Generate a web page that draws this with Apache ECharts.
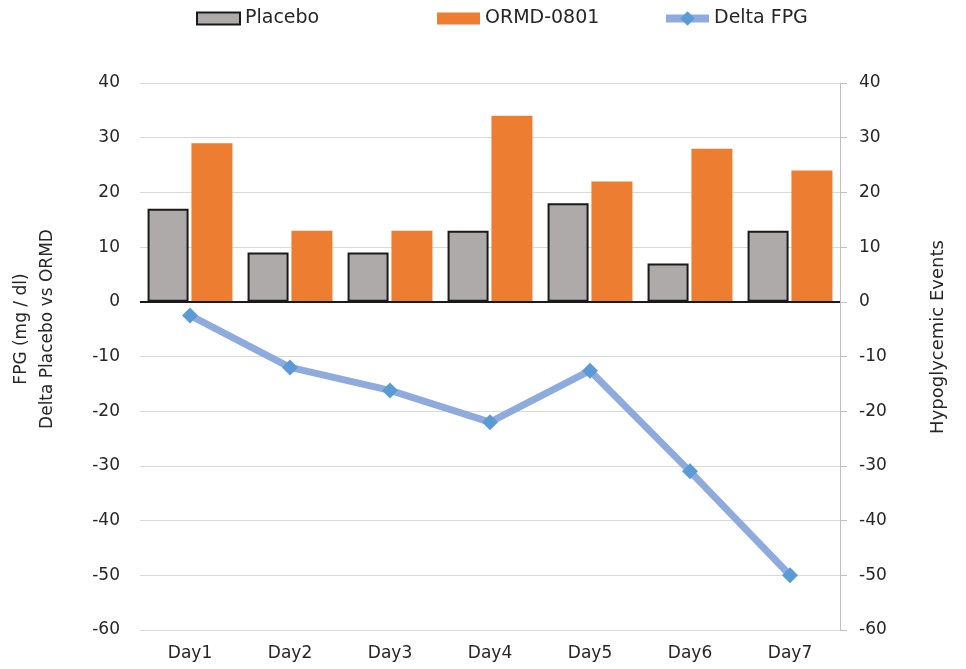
<!DOCTYPE html>
<html>
<head>
<meta charset="utf-8">
<script src="https://cdn.jsdelivr.net/npm/echarts@6/dist/echarts.min.js"></script>
<style>
  html, body { margin: 0; padding: 0; background: #fff; }
  #chart { width: 966px; height: 669px; }
</style>
</head>
<body>
<div id="chart"></div>
<script>
const categories = ['Day1', 'Day2', 'Day3', 'Day4', 'Day5', 'Day6', 'Day7'];
const placebo = [17, 9, 9, 13, 18, 7, 13];
const ormd = [29, 13, 13, 34, 22, 28, 24];
const deltaFPG = [-2.5, -12, -16.2, -22, -12.6, -31, -50];
const axisMin = -60;
const axisMax = 40;
const axisStep = 10;

const FONT = 'DejaVu Sans';
const TXT = '#262626';

const chart = echarts.init(document.getElementById('chart'), null, { renderer: 'canvas' });

const legendBase = {
  top: 9,
  padding: 0,
  itemWidth: 43,
  itemHeight: 12,
  selectedMode: false,
  textStyle: { fontFamily: FONT, fontSize: 19, color: TXT }
};

chart.setOption({
  animation: false,
  backgroundColor: '#ffffff',
  legend: [
    Object.assign({}, legendBase, { left: 196, data: [{ name: 'Placebo', icon: 'rect' }] }),
    Object.assign({}, legendBase, { left: 437, data: [{ name: 'ORMD-0801', icon: 'rect' }] }),
    Object.assign({}, legendBase, {
      left: 662,
      itemHeight: 18,
      data: [{ name: 'Delta FPG' }],
      lineStyle: { width: 8, color: '#8FAADC' }
    })
  ],
  grid: { left: 140, right: 126, top: 83, bottom: 39, containLabel: false },
  xAxis: {
    type: 'category',
    data: categories,
    axisLine: { show: false, onZero: false },
    axisTick: { show: false },
    axisLabel: { margin: 15, fontFamily: FONT, fontSize: 17, color: TXT },
    splitLine: { show: false }
  },
  yAxis: [
    {
      type: 'value',
      min: axisMin, max: axisMax, interval: axisStep,
      axisLine: { show: false },
      axisTick: { show: false },
      axisLabel: { margin: 20, fontFamily: FONT, fontSize: 17, color: TXT },
      splitLine: { show: true, lineStyle: { color: '#d9d9d9', width: 1 } }
    },
    {
      type: 'value',
      position: 'right',
      min: axisMin, max: axisMax, interval: axisStep,
      axisLine: { show: true, lineStyle: { color: '#bfbfbf', width: 1 } },
      axisTick: { show: true, inside: false, length: 7, lineStyle: { color: '#bfbfbf' } },
      axisLabel: { margin: 19, fontFamily: FONT, fontSize: 17, color: TXT },
      splitLine: { show: false }
    }
  ],
  graphic: [
    {
      type: 'text',
      x: 35, y: 329,
      rotation: Math.PI / 2,
      style: {
        text: 'FPG (mg / dl)\nDelta Placebo vs ORMD',
        font: '17px "' + FONT + '"',
        fill: TXT,
        align: 'center',
        verticalAlign: 'middle',
        lineHeight: 26
      }
    },
    {
      type: 'text',
      x: 938, y: 337,
      rotation: Math.PI / 2,
      style: {
        text: 'Hypoglycemic Events',
        font: '18px "' + FONT + '"',
        fill: TXT,
        align: 'center',
        verticalAlign: 'middle'
      }
    }
  ],
  series: [
    {
      name: 'Placebo',
      type: 'bar',
      data: placebo,
      barWidth: 41,
      barGap: '7%',
      itemStyle: { color: '#AEAAAA', borderColor: '#1a1a1a', borderWidth: 2 },
      markLine: {
        silent: true,
        symbol: 'none',
        label: { show: false },
        lineStyle: { color: '#1a1a1a', width: 2, type: 'solid' },
        data: [{ yAxis: 0 }]
      }
    },
    {
      name: 'ORMD-0801',
      type: 'bar',
      data: ormd,
      barWidth: 41,
      barGap: '7%',
      itemStyle: { color: '#ED7D31' }
    },
    {
      name: 'Delta FPG',
      type: 'line',
      data: deltaFPG,
      symbol: 'diamond',
      symbolSize: 16,
      lineStyle: { color: '#8FAADC', width: 7 },
      itemStyle: { color: '#5B9BD5' },
      z: 5
    }
  ]
});
</script>
</body>
</html>
